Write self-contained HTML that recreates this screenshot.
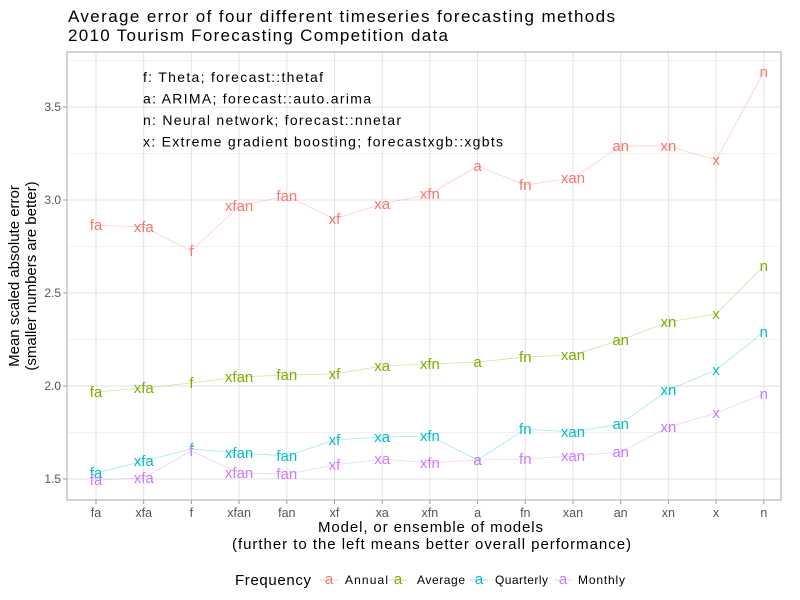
<!DOCTYPE html>
<html><head><meta charset="utf-8"><style>body{margin:0;background:#fff}svg{display:block;font-family:"Liberation Sans",sans-serif}</style></head>
<body><svg id="s" width="800" height="600" xmlns="http://www.w3.org/2000/svg"></svg>
<script>
var s=document.getElementById('s'),h='';
var L=67,R=781,T=52,B=500;
h+='<rect x="'+L+'" y="'+T+'" width="'+(R-L)+'" height="'+(B-T)+'" fill="#fff"/>';
function y(v){return 479-(v-1.5)*186;}
for(var v=1.5;v<=3.76;v+=0.25){var yy=y(v);h+='<line x1="'+L+'" x2="'+R+'" y1="'+yy+'" y2="'+yy+'" stroke="#e3e3e3" stroke-width="'+(v*2%1==0?1:0.6)+'"/>';}
var cats=['fa','xfa','f','xfan','fan','xf','xa','xfn','a','fn','xan','an','xn','x','n'];
function X(i){return 96+i*47.7;}
cats.forEach(function(c,i){h+='<line x1="'+X(i)+'" x2="'+X(i)+'" y1="'+T+'" y2="'+B+'" stroke="#e3e3e3"/>';
h+='<line x1="'+X(i)+'" x2="'+X(i)+'" y1="'+B+'" y2="'+(B+4)+'" stroke="#999"/>';
h+='<text x="'+X(i)+'" y="517" font-size="12.5" fill="#555" text-anchor="middle">'+c+'</text>';});
[1.5,2,2.5,3,3.5].forEach(function(v){h+='<line x1="'+(L-4)+'" x2="'+L+'" y1="'+y(v)+'" y2="'+y(v)+'" stroke="#999"/><text x="'+(L-6)+'" y="'+(y(v)+4)+'" font-size="12" fill="#555" text-anchor="end">'+v.toFixed(1)+'</text>';});
h+='<rect x="'+L+'" y="'+T+'" width="'+(R-L)+'" height="'+(B-T)+'" fill="none" stroke="#aaa"/>';
var S=[['#F8766D',[225,227,251,206,196,219,204,194,166,185,178,146,146,160,72]],
['#7CAE00',[392,388,383,377,375,374,366,364,362,357,355,340,322,314,266]],
['#00BFC4',[473,461,449,453,456,440,437,436,460,429,432,424,390,370,332]],
['#C77CFF',[480,478,451,473,474,465,459,463,460,459,456,452,427,413,394]]];
S.forEach(function(s){var p=s[1].map(function(v,i){return X(i)+','+v;}).join(' ');
h+='<polyline points="'+p+'" fill="none" stroke="'+s[0]+'" stroke-opacity="0.35" stroke-width="0.8"/>';
s[1].forEach(function(v,i){h+='<text x="'+X(i)+'" y="'+(v+5)+'" font-size="15" fill="'+s[0]+'" text-anchor="middle">'+cats[i]+'</text>';});});
var n=[['f: Theta; forecast::thetaf',323],['a:  ARIMA; forecast::auto.arima',371],['n: Neural network; forecast::nnetar',401],['x: Extreme gradient boosting; forecastxgb::xgbts',503]];
n.forEach(function(t,i){h+='<text x="143" y="'+(82+i*21.5)+'" font-size="14" fill="#000" textLength="'+(t[1]-143)+'">'+t[0]+'</text>';});
h+='<text x="68" y="22" font-size="17" textLength="547">Average error of four different timeseries forecasting methods</text>';
h+='<text x="68" y="41" font-size="17" textLength="380">2010 Tourism Forecasting Competition data</text>';
h+='<text x="318" y="532" font-size="15" textLength="225">Model, or ensemble of models</text>';
h+='<text x="232" y="549" font-size="15" textLength="399">(further to the left means better overall performance)</text>';
h+='<text transform="translate(19,276) rotate(-90)" font-size="15" text-anchor="middle">Mean scaled absolute error</text>';
h+='<text transform="translate(36,276) rotate(-90)" font-size="15" text-anchor="middle">(smaller numbers are better)</text>';
h+='<text x="235" y="585" font-size="15" textLength="76">Frequency</text>';
var lg=[['Annual',329,'#F8766D',345,43],['Average',398,'#7CAE00',417,48],['Quarterly',479,'#00BFC4',495,53],['Monthly',563,'#C77CFF',578,47]];
lg.forEach(function(l){h+='<line x1="'+(l[1]-9)+'" x2="'+(l[1]+9)+'" y1="580" y2="580" stroke="'+l[2]+'" stroke-opacity="0.4"/><text x="'+l[1]+'" y="584" font-size="15" fill="'+l[2]+'" text-anchor="middle">a</text><text x="'+l[3]+'" y="584" font-size="12" textLength="'+l[4]+'">'+l[0]+'</text>';});
s.innerHTML=h;
</script></body></html>
